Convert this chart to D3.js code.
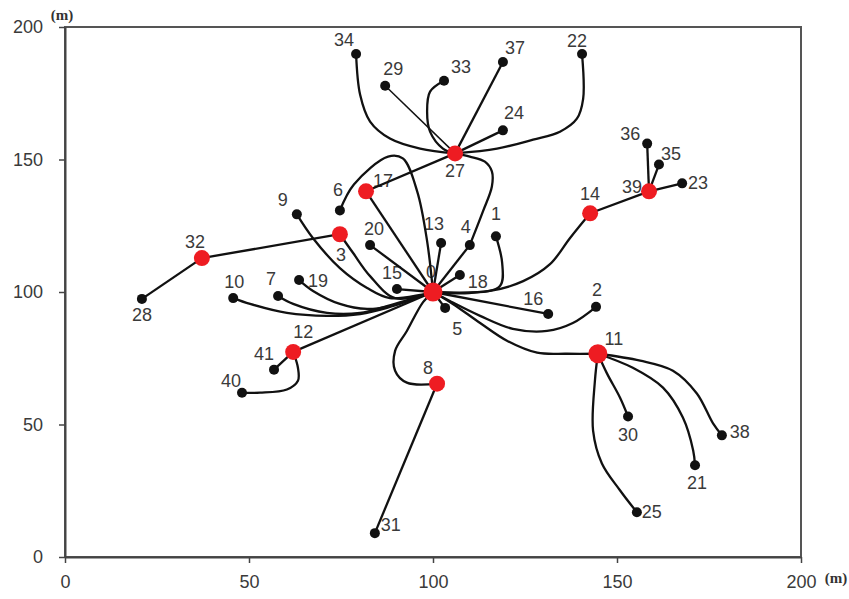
<!DOCTYPE html>
<html>
<head>
<meta charset="utf-8">
<script src="https://cdn.jsdelivr.net/npm/d3@7/dist/d3.min.js"></script>
<style>
  body { margin: 0; background: #fff; }
  svg { display: block; }
</style>
</head>
<body>
<div id="chart"></div>
<script>
// node positions in metres
const nodeIds = [0, 1, 2, 3, 4, 5, 6, 7, 8, 9, 10, 11, 12, 13, 14, 15, 16, 17, 18, 19, 20,
  21, 22, 23, 24, 25, 27, 28, 29, 30, 31, 32, 33, 34, 35, 36, 37, 38, 39, 40, 41];
const nodeX = [100, 117.1, 144.3, 74.7, 110, 103.3, 74.7, 57.9, 101.1, 63, 45.7, 144.8, 62, 102.2, 142.7,
  90.2, 131.3, 81.8, 107.3, 63.6, 82.9, 171.2, 140.5, 167.7, 119, 155.4, 106, 20.9, 87, 153, 84.2,
  37.2, 103, 79.1, 161.4, 158.2, 119, 178.5, 158.7, 48.1, 56.8];
const nodeY = [100, 121, 94.4, 121.8, 117.7, 94, 130.8, 98.5, 65.4, 129.3, 97.7, 76.7, 77.4, 118.5, 129.7,
  101.1, 91.7, 138, 106.4, 104.5, 117.7, 34.6, 189.8, 141, 161, 16.9, 152.3, 97.4, 177.8, 53, 9,
  112.8, 179.7, 189.8, 148.1, 156, 186.8, 45.9, 138, 62, 70.7];
// red nodes
const hubIds = [0, 3, 8, 11, 12, 14, 17, 27, 32, 39];

// links: [from, to, bend points in metres]
const links = [
  [0, 1, [[109.8, 99.6], [118.2, 102.3], [118.8, 110.9]]],
  [0, 2, [[104.6, 96.6], [112.8, 91], [121.7, 86.1], [131, 85.3], [138, 88.3]]],
  [0, 3, [[89.7, 97.7], [82.9, 106], [78.3, 114.7]]],
  [0, 4, []],
  [0, 5, []],
  [0, 6, [[98.4, 119.2], [95.7, 138], [91.8, 150.4], [87.8, 151.1], [78.5, 140.6]]],
  [0, 7, [[87.5, 94.7], [80.2, 92.1], [71.2, 92.1], [62, 95.5]]],
  [0, 8, [[97.3, 96.2], [92.9, 85.3], [89.7, 77.8], [89.7, 70.3], [92.9, 65.8]]],
  [0, 9, [[88.3, 97.7], [82.1, 101.5], [74.7, 109], [67.4, 120.3]]],
  [0, 10, [[87.5, 94], [80.2, 91.7], [71.2, 91], [60.3, 92.1], [50.3, 95.5]]],
  [0, 11, [[105.4, 95.5], [112.8, 88.3], [120.1, 81.6], [128.3, 77.1], [136.4, 76.7]]],
  [0, 12, []],
  [0, 13, []],
  [0, 14, [[115.5, 100.4], [124.5, 104.1], [131.8, 110.5], [137.2, 120.3]]],
  [0, 15, []],
  [0, 16, []],
  [0, 17, []],
  [0, 18, []],
  [0, 19, [[88.3, 94.7], [82.1, 93.6], [74.7, 95.5], [67.4, 100.4]]],
  [0, 20, []],
  [4, 27, [[113.6, 130.5], [116, 139.8], [116, 145.5], [114.1, 149.2], [110, 151.1]]],
  [3, 32, []],
  [32, 28, []],
  [8, 31, []],
  [11, 30, [[147.3, 69.2], [150.8, 60.2]]],
  [11, 21, [[154.3, 71.4], [162.5, 63.9], [167.9, 52.6], [170.7, 40.2]]],
  [11, 38, [[156.3, 74.1], [165.2, 70.3], [171.7, 61.7], [176.1, 50.4]]],
  [11, 25, [[144, 66.5], [143.5, 47.7], [145.9, 35.3], [150.8, 25.2]]],
  [12, 41, []],
  [12, 40, [[63.3, 71.4], [63.3, 66.5], [60.3, 63.2], [53, 62]]],
  [14, 39, []],
  [39, 36, []],
  [39, 35, []],
  [39, 23, []],
  [17, 27, []],
  [27, 34, [[96.5, 154.1], [88.3, 157.9], [82.9, 164.3], [80.2, 174.4]]],
  [27, 29, []],
  [27, 33, [[102.7, 154.1], [99.2, 160.5], [98.4, 168], [99.2, 175.6]]],
  [27, 37, []],
  [27, 22, [[117.4, 154.1], [127.2, 157.5], [134.5, 160.5], [139.1, 165.4], [140.8, 172.9]]],
  [27, 24, []]
];

const tickValues = [0, 50, 100, 150, 200];

// label offsets in px (layout only)
const labelOffset = {
  0: [-2, -20], 1: [0, -22], 2: [1, -17], 3: [1, 21], 4: [-4, -18], 5: [12, 21], 6: [-2, -20],
  7: [-7, -17], 8: [-9, -16], 9: [-14, -14], 10: [1, -16], 11: [16, -15], 12: [10, -20],
  13: [-7, -19], 14: [0, -19], 15: [-5, -16], 16: [-15, -15], 17: [17, -10], 18: [18, 7],
  19: [19, 1], 20: [4, -16], 21: [2, 18], 22: [-5, -13], 23: [16, 0], 24: [11, -17],
  25: [15, 0], 27: [0, 18], 28: [0, 16], 29: [8, -17], 30: [0, 18], 31: [16, -8],
  32: [-7, -16], 33: [17, -14], 34: [-12, -14], 35: [12, -11], 36: [-17, -10], 37: [12, -14],
  38: [18, -3], 39: [-17, -4], 40: [-11, -12], 41: [-10, -16]
};

const width = 849;
const height = 599;
const margin = { top: 27, right: 48, bottom: 42, left: 65 };

const svg = d3.select('#chart')
  .append('svg')
  .attr('width', width)
  .attr('height', height)
  .style('font-family', '"Liberation Sans", Arial, sans-serif');

const x = d3.scaleLinear().domain([0, 200]).range([margin.left, width - margin.right]);
const y = d3.scaleLinear().domain([0, 200]).range([height - margin.bottom, margin.top]);

const nodes = nodeIds.map((id, i) => ({ id: id, x: nodeX[i], y: nodeY[i], hub: hubIds.includes(id) }));
const byId = new Map(nodes.map((n) => [n.id, n]));

// frame
svg.append('rect')
  .attr('x', x(0))
  .attr('y', y(200))
  .attr('width', x(200) - x(0))
  .attr('height', y(0) - y(200))
  .attr('fill', 'none')
  .attr('stroke', '#555')
  .attr('stroke-width', 2);

const xAxis = svg.append('g')
  .attr('transform', `translate(0, ${y(0)})`)
  .call(d3.axisBottom(x).tickValues(tickValues).tickSize(6).tickSizeOuter(0).tickPadding(12));

const yAxis = svg.append('g')
  .attr('transform', `translate(${x(0)}, 0)`)
  .call(d3.axisLeft(y).tickValues(tickValues).tickSize(6).tickSizeOuter(0).tickPadding(16));

[xAxis, yAxis].forEach((a) => {
  a.select('.domain').attr('stroke', '#444').attr('stroke-width', 2);
  a.selectAll('.tick line').attr('stroke', '#444').attr('stroke-width', 1.5);
  a.selectAll('.tick text')
    .attr('fill', '#3a3a3a')
    .style('font-size', '18px')
    .style('font-family', '"Liberation Sans", Arial, sans-serif');
});

// unit marks
svg.append('text')
  .attr('x', 62)
  .attr('y', 20)
  .attr('text-anchor', 'middle')
  .style('font-family', '"Liberation Serif", serif')
  .style('font-weight', 'bold')
  .style('font-size', '15px')
  .attr('fill', '#333')
  .text('(m)');

svg.append('text')
  .attr('x', 836)
  .attr('y', 583)
  .attr('text-anchor', 'middle')
  .style('font-family', '"Liberation Serif", serif')
  .style('font-weight', 'bold')
  .style('font-size', '15px')
  .attr('fill', '#333')
  .text('(m)');

// labels go under the lines, like the original
svg.append('g')
  .selectAll('text')
  .data(nodes)
  .enter()
  .append('text')
  .attr('x', (d) => x(d.x) + labelOffset[d.id][0])
  .attr('y', (d) => y(d.y) + labelOffset[d.id][1])
  .attr('text-anchor', 'middle')
  .attr('dominant-baseline', 'central')
  .attr('fill', '#3a3a3a')
  .style('font-size', '18px')
  .text((d) => d.id);

const line = d3.line()
  .x((d) => x(d[0]))
  .y((d) => y(d[1]))
  .curve(d3.curveCatmullRom.alpha(0.5));

svg.append('g')
  .selectAll('path')
  .data(links)
  .enter()
  .append('path')
  .attr('d', (d) => {
    const a = byId.get(d[0]);
    const b = byId.get(d[1]);
    return line([[a.x, a.y]].concat(d[2], [[b.x, b.y]]));
  })
  .attr('fill', 'none')
  .attr('stroke', '#111')
  .attr('stroke-width', (d) => (d[1] === 29 ? 1.5 : 2.3));

svg.append('g')
  .selectAll('circle')
  .data(nodes)
  .enter()
  .append('circle')
  .attr('cx', (d) => x(d.x))
  .attr('cy', (d) => y(d.y))
  .attr('r', (d) => (d.hub ? (d.id === 0 || d.id === 11 ? 9.5 : 8) : 5))
  .attr('fill', (d) => (d.hub ? '#ee1c22' : '#111'));
</script>
</body>
</html>
